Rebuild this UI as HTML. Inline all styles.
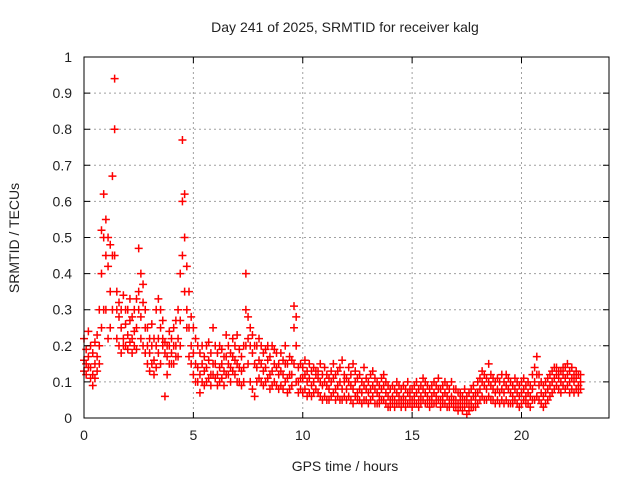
<!DOCTYPE html>
<html><head><meta charset="utf-8"><style>
body{margin:0;background:#fff}
svg text{font-family:"Liberation Sans",sans-serif;font-size:14px;fill:#222}
</style></head><body>
<svg id="chart" width="640" height="480" viewBox="0 0 640 480" xmlns="http://www.w3.org/2000/svg">
<text x="345" y="32" text-anchor="middle">Day 241 of 2025, SRMTID for receiver kalg</text>
<text transform="translate(19,238) rotate(-90)" text-anchor="middle">SRMTID / TECUs</text>
<text x="345" y="471" text-anchor="middle">GPS time / hours</text>
<g id="grid"></g><g id="marks"></g>
<rect x="84" y="57" width="525" height="361" fill="none" stroke="#000" stroke-width="1"/>
<g id="ticks"></g>
</svg>
<script>
const xTicks=[0,5,10,15,20];
const yTicks=[0,0.1,0.2,0.3,0.4,0.5,0.6,0.7,0.8,0.9,1];
const yTickLabels=["0","0.1","0.2","0.3","0.4","0.5","0.6","0.7","0.8","0.9","1"];
const binStep=0.1;
const srmtid=[
[.16,.22,.13],[.15,.19,.12],[.17,.24,.14],[.14,.2,.11],[.12,.18,.09],[.15,.21,.11],[.17,.23,.13],[.3,.2,.15],[.4,.52,.25],[.5,.62,.3],
[.45,.55,.3],[.42,.5,.22],[.35,.48,.25],[.45,.67,.3],[.94,.8,.45],[.35,.3,.22],[.28,.32,.2],[.25,.3,.18],[.22,.34,.2],[.26,.3,.2],
[.23,.3,.19],[.27,.21,.33],[.28,.22,.18],[.3,.24,.2],[.25,.33,.19],[.3,.47,.35],[.4,.28,.22],[.32,.37,.2],[.25,.3,.18],[.2,.15,.25],
[.18,.22,.13],[.2,.26,.15],[.16,.22,.12],[.2,.3,.14],[.22,.33,.18],[.25,.3,.15],[.22,.27,.2],[.18,.21,.06],[.17,.2,.12],[.24,.2,.15],
[.22,.18,.15],[.25,.2,.15],[.27,.2,.17],[.3,.22,.17],[.4,.27,.2],[.6,.77,.45],[.62,.5,.35],[.42,.3,.25],[.25,.35,.17],[.2,.28,.15],
[.18,.25,.12],[.15,.22,.1],[.14,.2,.1],[.12,.18,.07],[.15,.2,.1],[.13,.17,.09],[.14,.2,.1],[.16,.21,.11],[.12,.18,.09],[.15,.25,.12],
[.15,.2,.11],[.12,.18,.09],[.14,.2,.1],[.15,.19,.11],[.13,.17,.09],[.17,.23,.12],[.15,.2,.12],[.14,.18,.1],[.17,.22,.13],[.16,.2,.12],
[.15,.23,.1],[.14,.19,.1],[.13,.17,.09],[.14,.2,.1],[.3,.4,.2],[.28,.22,.15],[.25,.2,.1],[.18,.23,.08],[.15,.2,.06],[.14,.2,.1],
[.16,.22,.11],[.15,.2,.1],[.13,.18,.09],[.14,.19,.1],[.16,.2,.11],[.12,.17,.08],[.13,.2,.09],[.15,.19,.1],[.14,.18,.09],[.12,.15,.08],
[.13,.18,.09],[.12,.16,.08],[.15,.2,.1],[.11,.15,.07],[.12,.17,.08],[.12,.16,.09],[.25,.31,.15],[.2,.28,.1],[.1,.14,.07],[.11,.15,.08],
[.11,.14,.07],[.12,.16,.08],[.1,.13,.06],[.11,.15,.07],[.09,.13,.06],[.1,.14,.07],[.12,.13,.08],[.11,.13,.07],[.1,.15,.06],[.09,.12,.05],
[.1,.14,.06],[.09,.12,.05],[.08,.11,.05],[.1,.13,.06],[.11,.15,.07],[.08,.12,.05],[.09,.13,.06],[.1,.14,.05],[.08,.16,.05],[.1,.12,.06],
[.08,.11,.05],[.1,.14,.06],[.09,.12,.05],[.08,.15,.04],[.1,.13,.06],[.07,.11,.05],[.08,.12,.05],[.07,.1,.04],[.09,.14,.05],[.08,.11,.05],
[.07,.1,.04],[.08,.12,.05],[.09,.13,.06],[.08,.11,.04],[.07,.1,.04],[.06,.09,.04],[.08,.11,.05],[.09,.12,.05],[.07,.1,.04],[.06,.09,.03],
[.05,.08,.03],[.06,.09,.04],[.05,.08,.03],[.07,.1,.04],[.06,.09,.04],[.05,.08,.03],[.06,.09,.04],[.05,.08,.03],[.07,.1,.04],[.06,.08,.04],
[.05,.08,.03],[.06,.09,.04],[.07,.1,.04],[.05,.08,.03],[.06,.09,.04],[.08,.11,.05],[.07,.1,.04],[.06,.09,.04],[.05,.08,.03],[.06,.09,.04],
[.07,.1,.04],[.06,.09,.04],[.08,.11,.05],[.05,.08,.03],[.06,.09,.04],[.07,.1,.04],[.06,.09,.03],[.05,.08,.03],[.06,.1,.04],[.05,.08,.03],
[.05,.08,.03],[.04,.07,.02],[.05,.07,.03],[.04,.06,.02],[.05,.08,.03],[.04,.06,.01],[.04,.07,.02],[.05,.08,.03],[.06,.09,.03],[.05,.07,.03],
[.07,.1,.04],[.08,.11,.05],[.1,.13,.06],[.09,.12,.05],[.08,.11,.05],[.1,.15,.06],[.09,.12,.05],[.08,.11,.05],[.07,.1,.04],[.08,.11,.05],
[.07,.1,.04],[.08,.12,.05],[.07,.1,.04],[.09,.12,.05],[.08,.11,.04],[.07,.1,.04],[.06,.09,.04],[.08,.11,.05],[.07,.1,.04],[.06,.09,.03],
[.07,.1,.04],[.08,.11,.05],[.06,.09,.04],[.07,.1,.04],[.06,.09,.03],[.08,.12,.05],[.1,.14,.05],[.12,.17,.06],[.09,.12,.05],[.07,.1,.04],
[.06,.09,.03],[.07,.1,.04],[.08,.11,.05],[.09,.12,.06],[.1,.13,.07],[.11,.14,.08],[.12,.14,.09],[.11,.13,.08],[.1,.13,.07],[.12,.14,.09],
[.11,.14,.08],[.12,.15,.09],[.1,.13,.07],[.11,.14,.08],[.1,.12,.07],[.11,.13,.08],[.09,.12,.07],[.1,.12,.08]
];
const L=84,R=609,T=57,B=418,XMAX=24;
const xs=v=>L+v/XMAX*(R-L);
const ys=v=>B-v*(B-T);
const NS="http://www.w3.org/2000/svg";
function mk(tag,attrs,parent){const e=document.createElementNS(NS,tag);for(const k in attrs)e.setAttribute(k,attrs[k]);parent.appendChild(e);return e;}
const grid=document.getElementById('grid'),ticks=document.getElementById('ticks'),marks=document.getElementById('marks');
xTicks.forEach(t=>{
  const x=xs(t);
  if(t>0){const g=mk('line',{x1:x,x2:x,y1:T,y2:B,stroke:'#a0a0a0','stroke-dasharray':'2,3'},grid);
  
  }
  const tk=mk('path',{d:`M${x},${B}v-6M${x},${T}v6`,stroke:'#000'},ticks);
  
  
  const lb=mk('text',{x:x,y:B+22,'text-anchor':'middle'},ticks);lb.textContent=String(t);
  
  
});
yTicks.forEach((t,i)=>{
  const y=ys(t);
  if(t>0&&t<1){const g=mk('line',{x1:L,x2:R,y1:y,y2:y,stroke:'#a0a0a0','stroke-dasharray':'2,3'},grid);
  
  }
  const tk=mk('path',{d:`M${L},${y}h6M${R},${y}h-6`,stroke:'#000'},ticks);
  
  
  const lb=mk('text',{x:L-12,y:y+5,'text-anchor':'end'},ticks);lb.textContent=yTickLabels[i];
  
  
});
let d='';
srmtid.forEach((vals,i)=>{const x=xs(i*binStep);vals.forEach(v=>{const y=ys(v);d+=`M${x-4},${y}h8M${x},${y-4}v8`;});});
const p=mk('path',{d:d,stroke:'#ff0000','stroke-width':'1.5',fill:'none'},marks);


</script>
</body></html>
